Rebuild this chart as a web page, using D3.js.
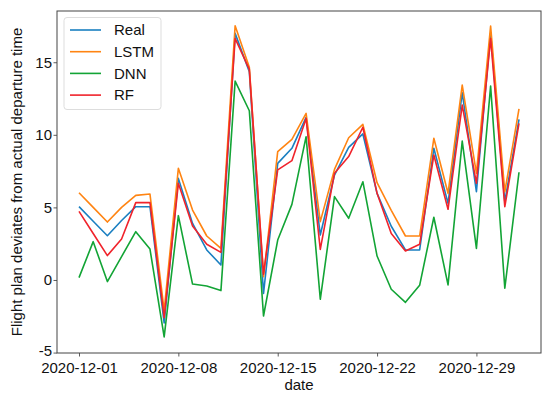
<!DOCTYPE html>
<html><head><meta charset="utf-8">
<script src="https://cdn.jsdelivr.net/npm/d3@7"></script>
<style>body{margin:0;background:#fff}svg{display:block;font-family:"Liberation Sans",Arial,sans-serif}</style>
</head><body><svg id="c" width="550" height="398"></svg>
<script>
const startDate = "2020-12-01";
const dayCount = 32;
const seriesNames = ["Real", "LSTM", "DNN", "RF"];
const seriesColors = ["#1a7fc1", "#ff8412", "#12a435", "#f0232b"];
const realValues = [5.05, 4.05, 3.05, 4.1, 5.05, 5.05, -2.96, 7.0, 3.9, 2.07, 1.03, 16.99, 14.35, -0.92, 8.03, 9.07, 11.2, 3.1, 7.23, 9.14, 10.06, 5.97, 3.7, 2.07, 2.07, 9.07, 5.28, 12.9, 6.08, 16.99, 5.4, 11.07];
const lstmValues = [6.01, 5.0, 3.99, 5.0, 5.83, 5.92, -2.1, 7.69, 4.82, 3.03, 2.18, 17.51, 14.65, 0.23, 8.84, 9.69, 11.48, 4.02, 7.62, 9.8, 10.72, 6.7, 4.8, 3.03, 3.03, 9.76, 5.97, 13.43, 7.35, 17.49, 6.08, 11.78];
const dnnValues = [0.16, 2.64, -0.11, 1.61, 3.33, 2.13, -3.92, 4.43, -0.28, -0.41, -0.73, 13.7, 11.66, -2.48, 2.75, 5.21, 9.87, -1.33, 5.74, 4.25, 6.77, 1.65, -0.64, -1.54, -0.37, 4.32, -0.34, 9.57, 2.18, 13.36, -0.57, 7.42];
const rfValues = [4.73, 3.2, 1.68, 2.82, 5.33, 5.33, -2.6, 6.66, 3.72, 2.46, 1.9, 16.64, 14.51, 0.4, 7.58, 8.22, 11.13, 2.11, 7.35, 8.5, 10.52, 5.97, 3.2, 2.0, 2.46, 8.61, 4.87, 12.05, 6.66, 16.64, 5.05, 10.79];
const xTickLabels = ["2020-12-01", "2020-12-08", "2020-12-15", "2020-12-22", "2020-12-29"];
const yTickValues = [-5, 0, 5, 10, 15];
const xLabel = "date";
const yLabel = "Flight plan deviates from actual departure time";

const parse = d3.timeParse("%Y-%m-%d");
const t0 = parse(startDate);
const dates = d3.range(dayCount).map(i => d3.timeDay.offset(t0, i));
const allSeries = [realValues, lstmValues, dnnValues, rfValues];

const L = 57, R = 541, T = 11, B = 353;
const FS = "15px";
const svg = d3.select("#c");
const span = dates[dates.length-1] - dates[0];
const x = d3.scaleTime()
  .domain([new Date(+dates[0] - span*0.05), new Date(+dates[dates.length-1] + span*0.05)])
  .range([L, R]);
const y = d3.scaleLinear().domain([-5.03, 18.53]).range([B, T]);

const line = d3.line().x((d,i) => x(dates[i])).y(d => y(d));
allSeries.forEach((vals, k) => {
  svg.append("path").datum(vals).attr("d", line)
    .attr("fill", "none").attr("stroke", seriesColors[k]).attr("stroke-width", 1.6)
    .attr("stroke-linejoin", "round");
});

const xAxis = svg.append("g").attr("transform", `translate(0,${B})`)
  .call(d3.axisBottom(x).tickValues(xTickLabels.map(parse)).tickFormat(d3.timeFormat("%Y-%m-%d")).tickSize(3.5).tickSizeOuter(0));
const yAxis = svg.append("g").attr("transform", `translate(${L},0)`)
  .call(d3.axisLeft(y).tickValues(yTickValues).tickFormat(d3.format("d")).tickSize(3.5).tickSizeOuter(0));
[xAxis, yAxis].forEach(a => {
  a.select(".domain").remove();
  a.selectAll("line").attr("stroke", "#333").attr("stroke-width", 0.8);
  a.selectAll("text").attr("fill", "#111").style("font-size", FS);
});
xAxis.selectAll("text").attr("y", 7).attr("dy", "0.85em");
yAxis.selectAll("text").attr("x", -5).attr("dy", d => d === -5 ? "0.22em" : "0.32em").text(d => d < 0 ? "-" + Math.abs(d) : d);

svg.append("rect").attr("x", L).attr("y", T).attr("width", R-L).attr("height", B-T)
  .attr("fill", "none").attr("stroke", "#444").attr("stroke-width", 1);

svg.append("text").attr("x", (L+R)/2).attr("y", 390).attr("text-anchor", "middle")
  .style("font-size", FS).attr("fill", "#111").text(xLabel);
svg.append("text").attr("transform", `translate(22,${(T+B)/2}) rotate(-90)`).attr("text-anchor", "middle")
  .style("font-size", FS).attr("fill", "#111").text(yLabel);

const lg = svg.append("g");
lg.append("rect").attr("x", 64).attr("y", 17.5).attr("width", 97).attr("height", 92).attr("rx", 3)
  .attr("fill", "#fff").attr("fill-opacity", 0.8).attr("stroke", "#ddd");
seriesNames.forEach((n, k) => {
  const yy = 30 + k*21.7;
  lg.append("line").attr("x1", 70).attr("x2", 101).attr("y1", yy).attr("y2", yy)
    .attr("stroke", seriesColors[k]).attr("stroke-width", 1.6);
  lg.append("text").attr("x", 114).attr("y", yy).attr("dy", "0.35em")
    .style("font-size", FS).attr("fill", "#111").text(n);
});
</script></body></html>
